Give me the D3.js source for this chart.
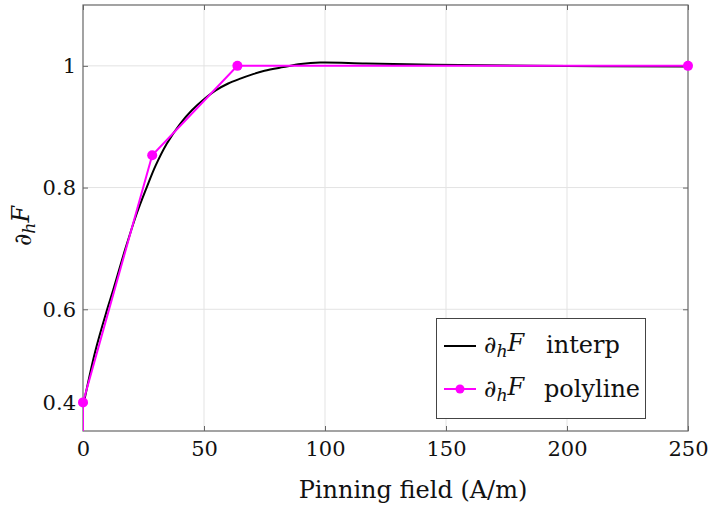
<!DOCTYPE html>
<html><head><meta charset="utf-8">
<script src="https://cdn.jsdelivr.net/npm/d3@7"></script>
<style>body{margin:0;background:#fff}svg{display:block}text{font-family:"DejaVu Serif",serif}</style>
</head><body><svg id="c" width="708" height="508"></svg>
<script>
// data
const interpX = [0, 5, 10, 12.5, 17.4, 22, 26.3, 30, 34.6, 40, 45, 50, 55, 60, 65, 70, 75, 82.8, 90, 98, 117, 145, 186, 250];
const interpY = [0.44, 0.53, 0.60, 0.632, 0.698, 0.755, 0.80, 0.836, 0.872, 0.904, 0.927, 0.945, 0.960, 0.971, 0.979, 0.986, 0.992, 0.998, 1.003, 1.0055, 1.004, 1.002, 1.0, 0.999];
const polyX = [0, 0, 28.6, 63.8, 250];
const polyY = [0.3, 0.447, 0.853, 1.0, 1.0];
const polyMarked = [false, true, true, true, true];
const xTicks = [0, 50, 100, 150, 200, 250];
const yTicks = [0.6, 0.8, 1.0];
const yTickLabels = ["0.6", "0.8", "1"];
const yExtraTick = 0.447, yExtraLabel = "0.4";

const svg = d3.select("#c");
const L = 83, R = 688, T = 5, B = 431;
const FS = 21;
const x = d3.scaleLinear().domain([0, 250]).range([L, R]);
const y = d3.scaleLinear().domain([0.4, 1.1]).range([B, T]);

svg.append("defs").append("clipPath").attr("id", "clip")
  .append("rect").attr("x", L).attr("y", T).attr("width", R - L).attr("height", B - T);

// grid
svg.append("g").selectAll("line").data(xTicks.filter(d => d > 0 && d < 250)).join("line")
  .attr("x1", d => x(d)).attr("x2", d => x(d)).attr("y1", T).attr("y2", B)
  .attr("stroke", "#e3e3e3").attr("stroke-width", 1);
svg.append("g").selectAll("line").data(yTicks).join("line")
  .attr("x1", L).attr("x2", R).attr("y1", d => y(d)).attr("y2", d => y(d))
  .attr("stroke", "#e3e3e3").attr("stroke-width", 1);

// axes (ticks inward)
const ax = svg.append("g").attr("transform", `translate(0,${B})`)
  .call(d3.axisBottom(x).tickValues(xTicks).tickSize(-5).tickPadding(10).tickFormat(d3.format("d")));
const axTop = svg.append("g").attr("transform", `translate(0,${T})`)
  .call(d3.axisTop(x).tickValues(xTicks).tickSize(-5).tickFormat(""));
const ay = svg.append("g").attr("transform", `translate(${L},0)`)
  .call(d3.axisLeft(y).tickValues([yExtraTick, ...yTicks]).tickSize(-5).tickPadding(7)
    .tickFormat(d => d === yExtraTick ? yExtraLabel : yTickLabels[yTicks.indexOf(d)]));
const ayR = svg.append("g").attr("transform", `translate(${R},0)`)
  .call(d3.axisRight(y).tickValues(yTicks).tickSize(-5).tickFormat(""));
[ax, axTop, ay, ayR].forEach(g => {
  g.select(".domain").remove();
  g.selectAll(".tick line").attr("stroke", "#666");
  g.selectAll("text").attr("font-size", FS).attr("fill", "#111").attr("font-family", "DejaVu Serif");
});
ax.selectAll("text").attr("dy", "0.71em");
svg.append("rect").attr("x", L).attr("y", T).attr("width", R - L).attr("height", B - T)
  .attr("fill", "none").attr("stroke", "#666").attr("stroke-width", 1.2);

// lines
const interp = interpX.map((d, i) => [d, interpY[i]]);
const poly = polyX.map((d, i) => [d, polyY[i], polyMarked[i]]);
const plot = svg.append("g").attr("clip-path", "url(#clip)");
plot.append("path").datum(interp)
  .attr("d", d3.line().x(d => x(d[0])).y(d => y(d[1])).curve(d3.curveCatmullRom.alpha(0.5)))
  .attr("fill", "none").attr("stroke", "#000").attr("stroke-width", 2);
plot.append("path").datum(poly)
  .attr("d", d3.line().x(d => x(d[0])).y(d => y(d[1])))
  .attr("fill", "none").attr("stroke", "#ff00ff").attr("stroke-width", 2);
svg.append("g").selectAll("circle").data(poly.filter(d => d[2])).join("circle")
  .attr("cx", d => x(d[0])).attr("cy", d => y(d[1])).attr("r", 5).attr("fill", "#ff00ff");

// math text helper
function mathLabel(sel) {
  sel.append("tspan").attr("font-style", "italic").text("∂");
  sel.append("tspan").attr("font-style", "italic").attr("font-size", "0.72em").attr("dy", "0.25em").text("h");
  sel.append("tspan").attr("font-style", "italic").attr("dy", "-0.25em").text("F");
}

// axis titles
svg.append("text").attr("x", 413).attr("y", 498).attr("text-anchor", "middle")
  .attr("font-size", 24).attr("fill", "#111").text("Pinning field (A/m)");
const yl = svg.append("text").attr("transform", "translate(31,226) rotate(-90)")
  .attr("text-anchor", "middle").attr("font-size", 24).attr("fill", "#111");
mathLabel(yl);

// legend
const lg = svg.append("g");
lg.append("rect").attr("x", 436.5).attr("y", 318.5).attr("width", 209).attr("height", 100)
  .attr("fill", "#fff").attr("stroke", "#444").attr("stroke-width", 1);
lg.append("line").attr("x1", 444).attr("x2", 476).attr("y1", 346).attr("y2", 346)
  .attr("stroke", "#000").attr("stroke-width", 2);
lg.append("line").attr("x1", 444).attr("x2", 476).attr("y1", 389).attr("y2", 389)
  .attr("stroke", "#ff00ff").attr("stroke-width", 2);
lg.append("circle").attr("cx", 460).attr("cy", 389).attr("r", 4.5).attr("fill", "#ff00ff");
const t1 = lg.append("text").attr("x", 484).attr("y", 353).attr("font-size", 24).attr("fill", "#111");
mathLabel(t1);
lg.append("text").attr("x", 546).attr("y", 353).attr("font-size", 24).attr("fill", "#111").text("interp");
const t2 = lg.append("text").attr("x", 484).attr("y", 397).attr("font-size", 24).attr("fill", "#111");
mathLabel(t2);
lg.append("text").attr("x", 544).attr("y", 397).attr("font-size", 24).attr("fill", "#111").text("polyline");
</script></body></html>
